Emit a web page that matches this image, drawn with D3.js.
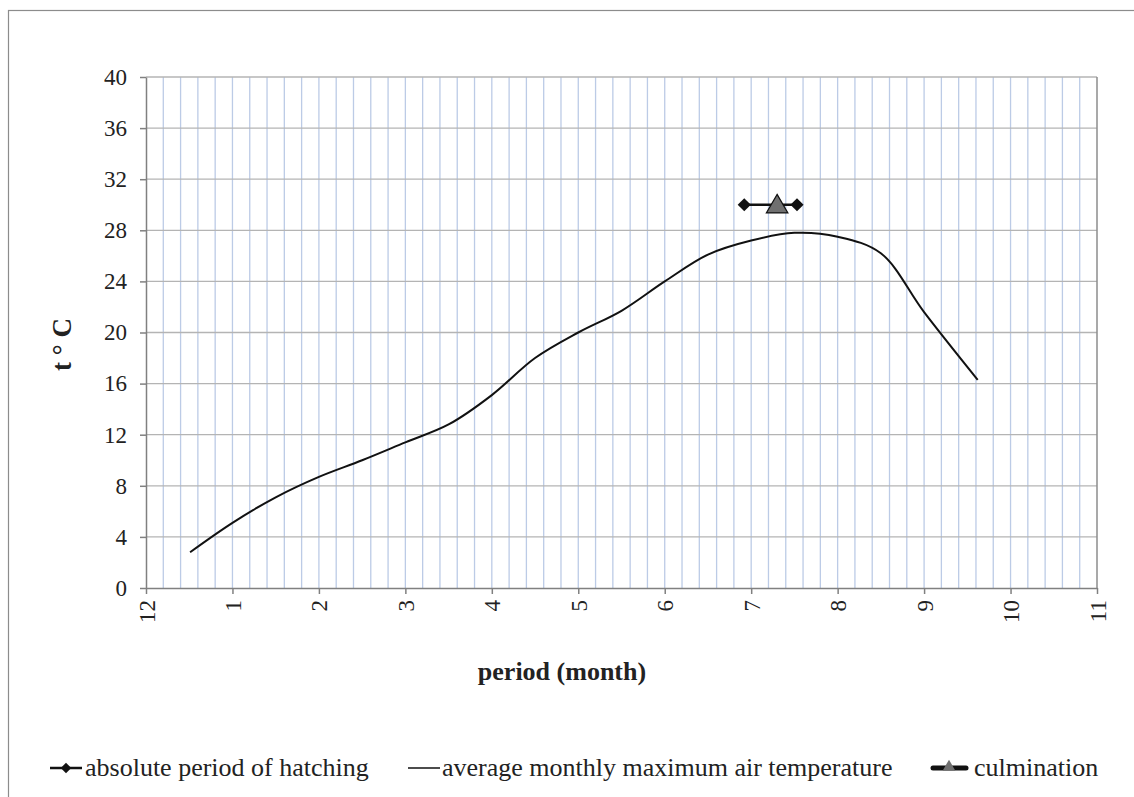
<!DOCTYPE html>
<html>
<head>
<meta charset="utf-8">
<script src="https://cdn.jsdelivr.net/npm/d3@7"></script>
<style>
  body { margin: 0; background: #fff; }
  svg text { font-family: "Liberation Serif", "Times New Roman", serif; fill: #222; }
</style>
</head>
<body>
<svg id="chart"></svg>
<script>
// month position: 0 = December (12), 1 = January ... 11 = November
const tempMonths = [0.51, 1.0, 1.5, 2.0, 2.5, 3.0, 3.5, 4.0, 4.5, 5.0, 5.5, 6.0, 6.5, 7.0, 7.5, 8.0, 8.5, 9.0, 9.62];
const tempValues = [2.8, 5.1, 7.1, 8.7, 10.0, 11.4, 12.8, 15.1, 18.0, 20.0, 21.7, 24.0, 26.1, 27.2, 27.8, 27.5, 26.2, 21.6, 16.3];

const hatchMonths = [6.92, 7.53];
const hatchValues = [30, 30];

const culmMonth = [7.30];
const culmValue = [30];

const xTickValues = [0, 1, 2, 3, 4, 5, 6, 7, 8, 9, 10, 11];
const xTickLabels = ["12", "1", "2", "3", "4", "5", "6", "7", "8", "9", "10", "11"];
const yTickValues = [0, 4, 8, 12, 16, 20, 24, 28, 32, 36, 40];

const legendLabels = ["absolute period of hatching", "average monthly maximum air temperature", "culmination"];

const width = 1134;
const height = 797;
const margin = {top: 77, right: 37, bottom: 209, left: 146};
const viewWidth = width - margin.left - margin.right;
const viewHeight = height - margin.top - margin.bottom;

const svg = d3.select("#chart")
              .attr("width", width)
              .attr("height", height);

// outer frame
svg.append("rect")
   .attr("x", 8.5)
   .attr("y", 10.5)
   .attr("width", 1200)
   .attr("height", 1000)
   .attr("fill", "none")
   .attr("stroke", "#8c8c8c")
   .attr("stroke-width", 1.2);

const x = d3.scaleLinear().domain([0, 11]).range([0, viewWidth]);
const y = d3.scaleLinear().domain([0, 40]).range([viewHeight, 0]);

const G = svg.append("g")
             .attr("transform", "translate(" + margin.left + "," + margin.top + ")");

// vertical minor grid, every 0.2 month
G.append("g")
 .selectAll("line")
 .data(d3.range(1, 55).map(i => i / 5))
 .enter()
 .append("line")
 .attr("x1", d => x(d)).attr("x2", d => x(d))
 .attr("y1", 0).attr("y2", viewHeight)
 .attr("stroke", "#bccbe6")
 .attr("stroke-width", 1.3);

// horizontal grid
G.append("g")
 .selectAll("line")
 .data(yTickValues.slice(1))
 .enter()
 .append("line")
 .attr("x1", 0).attr("x2", viewWidth)
 .attr("y1", d => y(d)).attr("y2", d => y(d))
 .attr("stroke", "#b4b4b4")
 .attr("stroke-width", 1.3);

// right border of plot
G.append("line")
 .attr("x1", viewWidth).attr("x2", viewWidth)
 .attr("y1", 0).attr("y2", viewHeight)
 .attr("stroke", "#8c8c8c")
 .attr("stroke-width", 1.5);

const xAxisCall = d3.axisBottom(x)
                    .tickValues(xTickValues)
                    .tickSize(6)
                    .tickSizeOuter(0)
                    .tickFormat((d, i) => xTickLabels[i]);

const yAxisCall = d3.axisLeft(y)
                    .tickValues(yTickValues)
                    .tickSize(6)
                    .tickSizeOuter(0);

const xAxis = G.append("g")
               .attr("transform", "translate(0," + viewHeight + ")")
               .call(xAxisCall);

xAxis.selectAll("text")
     .attr("transform", "rotate(-90)")
     .attr("text-anchor", "end")
     .attr("x", -12)
     .attr("y", 0)
     .attr("dy", "0.35em")
     .style("font-size", "23px");

const yAxis = G.append("g").call(yAxisCall);

yAxis.selectAll("text")
     .attr("x", -19)
     .style("font-size", "23px");

svg.selectAll(".domain, .tick line")
   .attr("stroke", "#808080")
   .attr("stroke-width", 1.5);

svg.selectAll(".tick text").style("fill", "#222").style("font-family", "Liberation Serif, serif");

// axis titles
svg.append("text")
   .attr("transform", "translate(71," + (margin.top + viewHeight / 2 + 12) + ") rotate(-90)")
   .attr("text-anchor", "middle")
   .style("font-size", "27px")
   .style("font-weight", "bold")
   .text("t ° C");

svg.append("text")
   .attr("x", 562)
   .attr("y", 680)
   .attr("text-anchor", "middle")
   .style("font-size", "26px")
   .style("font-weight", "bold")
   .text("period (month)");

// temperature curve
const tempData = tempMonths.map((m, i) => [m, tempValues[i]]);
const line = d3.line()
               .x(d => x(d[0]))
               .y(d => y(d[1]))
               .curve(d3.curveCatmullRom.alpha(0.5));

G.append("path")
 .datum(tempData)
 .attr("d", line)
 .attr("fill", "none")
 .attr("stroke", "#111")
 .attr("stroke-width", 2);

// hatching period
const hatchData = hatchMonths.map((m, i) => [m, hatchValues[i]]);
G.append("path")
 .datum(hatchData)
 .attr("d", d3.line().x(d => x(d[0])).y(d => y(d[1])))
 .attr("stroke", "#111")
 .attr("stroke-width", 2.5);

const diamond = d3.symbol().type(d3.symbolDiamond2).size(110);
G.selectAll(".hatch")
 .data(hatchData)
 .enter()
 .append("path")
 .attr("class", "hatch")
 .attr("transform", d => "translate(" + x(d[0]) + "," + y(d[1]) + ")")
 .attr("d", diamond)
 .attr("fill", "#111");

// culmination
const triangle = d3.symbol().type(d3.symbolTriangle).size(200);
G.selectAll(".culm")
 .data(culmMonth.map((m, i) => [m, culmValue[i]]))
 .enter()
 .append("path")
 .attr("class", "culm")
 .attr("transform", d => "translate(" + x(d[0]) + "," + (y(d[1]) + 2) + ")")
 .attr("d", triangle)
 .attr("fill", "#707070")
 .attr("stroke", "#111")
 .attr("stroke-width", 1.2);

// legend
const legendY = 768;
const legend = svg.append("g");

legend.append("line")
      .attr("x1", 50).attr("x2", 82)
      .attr("y1", legendY).attr("y2", legendY)
      .attr("stroke", "#111").attr("stroke-width", 2.5);
legend.append("path")
      .attr("transform", "translate(66," + legendY + ")")
      .attr("d", d3.symbol().type(d3.symbolDiamond2).size(70))
      .attr("fill", "#111");
legend.append("text")
      .attr("x", 85).attr("y", legendY + 8)
      .style("font-size", "26px")
      .text(legendLabels[0]);

legend.append("line")
      .attr("x1", 408).attr("x2", 440)
      .attr("y1", legendY).attr("y2", legendY)
      .attr("stroke", "#111").attr("stroke-width", 1.5);
legend.append("text")
      .attr("x", 442).attr("y", legendY + 8)
      .style("font-size", "26px")
      .text(legendLabels[1]);

legend.append("line")
      .attr("x1", 933).attr("x2", 966)
      .attr("y1", legendY).attr("y2", legendY)
      .attr("stroke", "#111").attr("stroke-width", 5)
      .attr("stroke-linecap", "round");
legend.append("path")
      .attr("transform", "translate(949," + (legendY - 1) + ")")
      .attr("d", d3.symbol().type(d3.symbolTriangle).size(70))
      .attr("fill", "#707070");
legend.append("text")
      .attr("x", 974).attr("y", legendY + 8)
      .style("font-size", "26px")
      .text(legendLabels[2]);
</script>
</body>
</html>
